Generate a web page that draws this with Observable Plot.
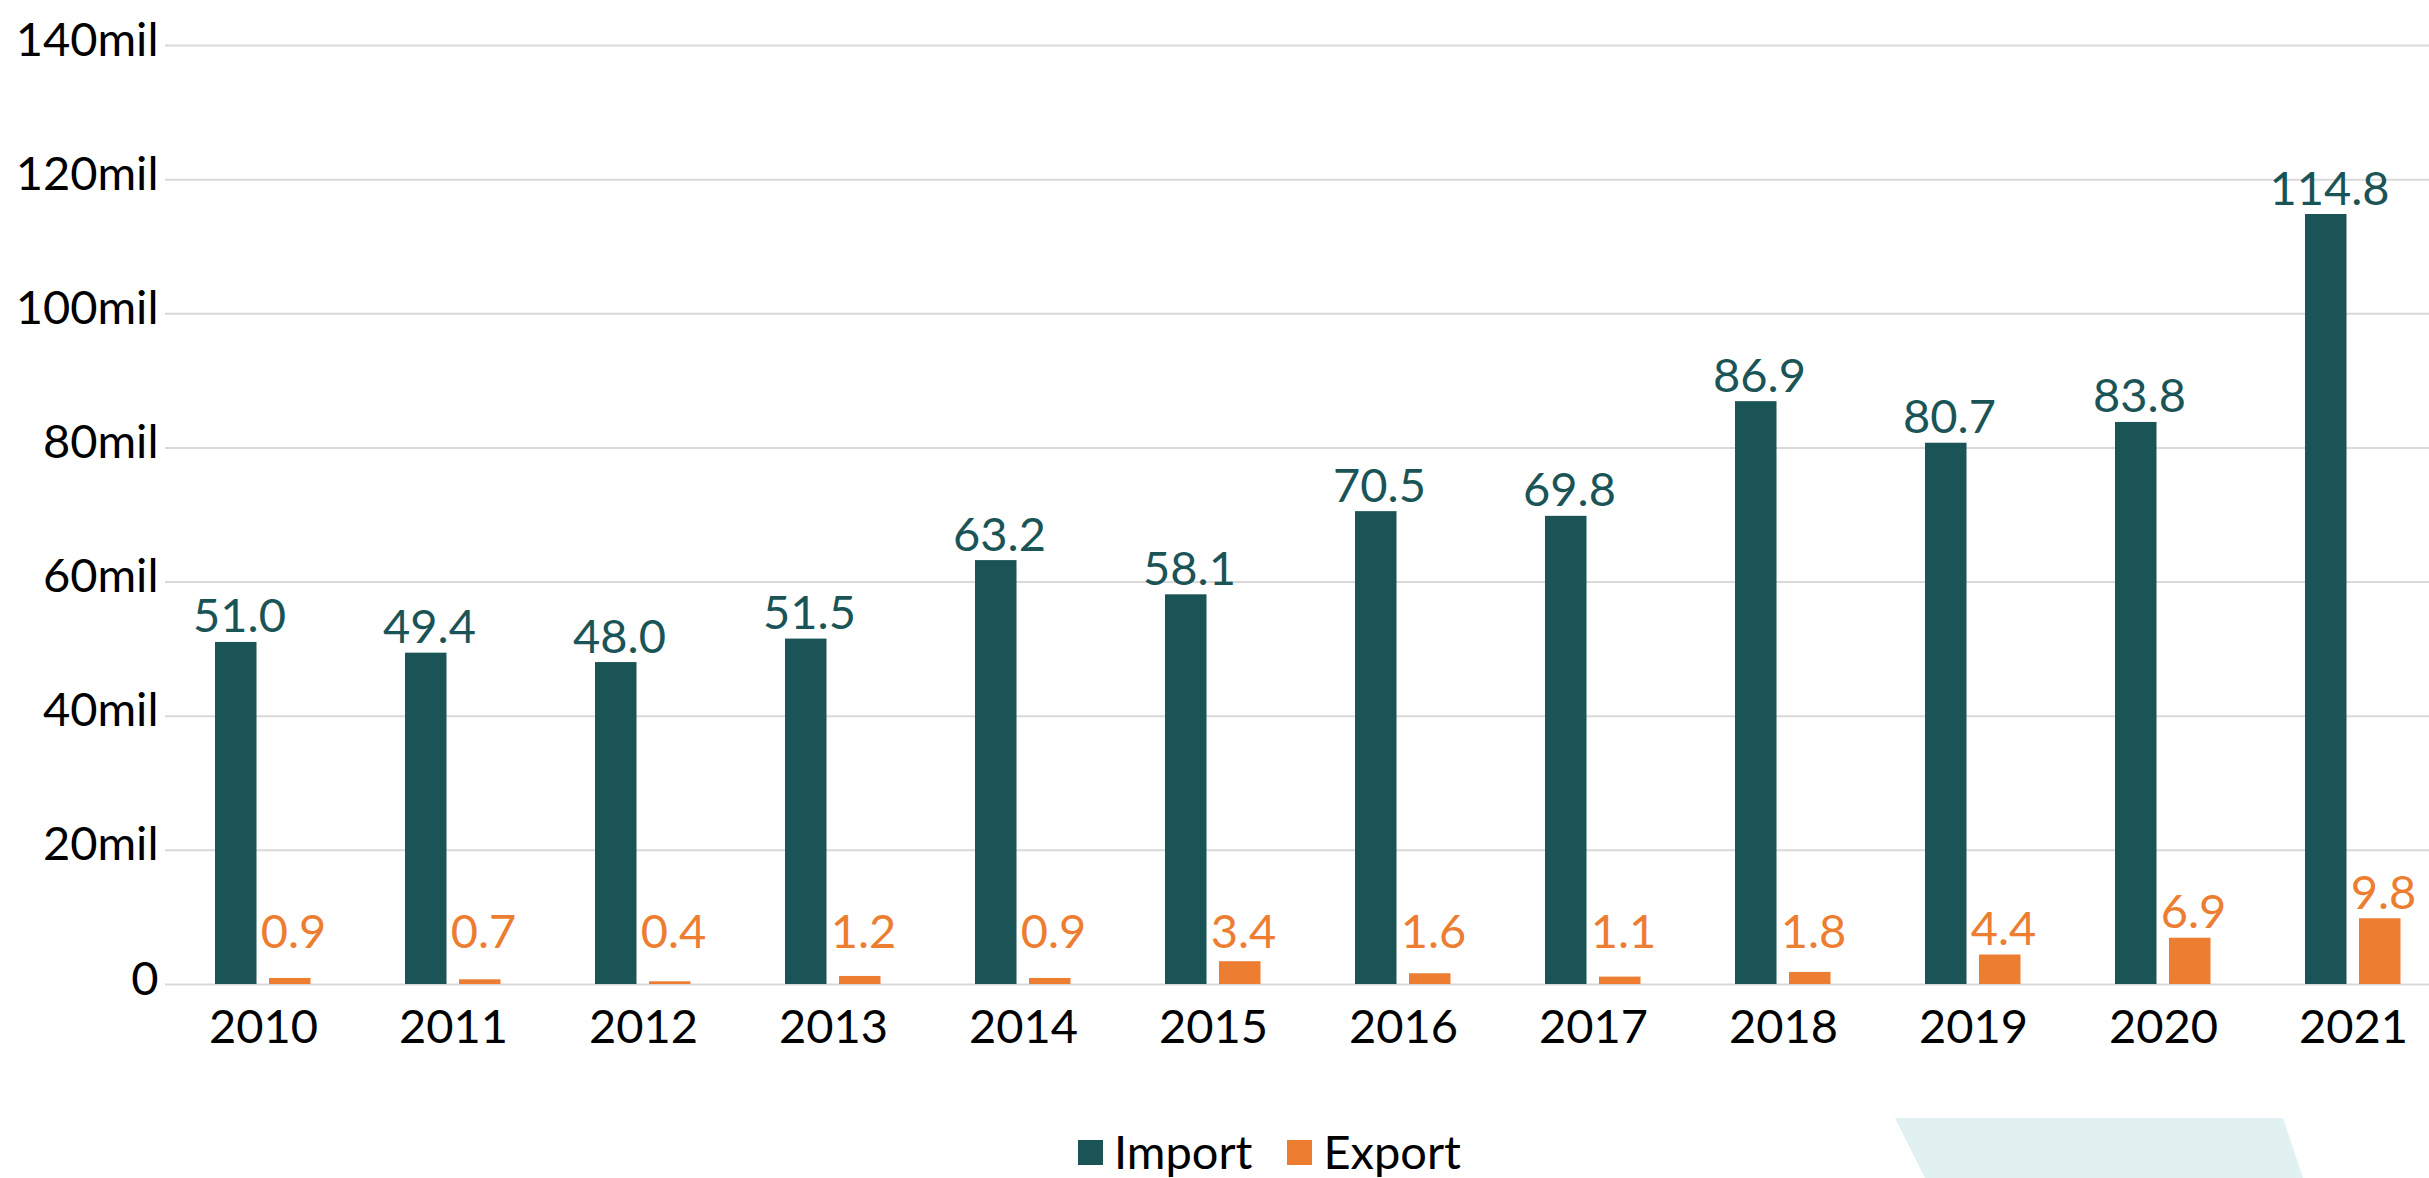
<!DOCTYPE html>
<html>
<head>
<meta charset="utf-8">
<script src="https://cdn.jsdelivr.net/npm/d3@7"></script>
<script src="https://cdn.jsdelivr.net/npm/@observablehq/plot@0.6"></script>
<style>
  html, body { margin: 0; padding: 0; background: #ffffff; }
  #wrap { position: relative; width: 2429px; height: 1178px; overflow: hidden; font-family: Lato, sans-serif; }
  #chart { position: absolute; left: 0; top: 0; }
  #deco { position: absolute; left: 1890px; top: 1118px; width: 420px; height: 60px; background: #e1f0f0;
          clip-path: polygon(5px 0, 393px 0, 413px 60px, 35px 60px); }
  #legend { position: absolute; left: 1078px; top: 1128px; display: flex; align-items: center;
            font-family: Lato, sans-serif; font-size: 47px; line-height: 47px; color: #000; }
  .item { display: flex; align-items: center; margin-right: 35px; }
  .sw { width: 25px; height: 25px; margin-right: 11px; margin-top: 2px; }
</style>
</head>
<body>
<div id="wrap">
  <div id="chart"></div>
  <div id="deco"></div>
  <div id="legend"></div>
</div>
<script>
// ---- data ----
const years = ["2010","2011","2012","2013","2014","2015","2016","2017","2018","2019","2020","2021"];
const importValues = [51.0, 49.4, 48.0, 51.5, 63.2, 58.1, 70.5, 69.8, 86.9, 80.7, 83.8, 114.8];
const exportValues = [0.9, 0.7, 0.4, 1.2, 0.9, 3.4, 1.6, 1.1, 1.8, 4.4, 6.9, 9.8];
const seriesNames = ["Import", "Export"];
const seriesColors = ["#1a5457", "#ed7d31"];
const yTicks = [0, 20, 40, 60, 80, 100, 120, 140];

const importRows = years.map((year, i) => ({year, series: "Import", value: importValues[i]}));
const exportRows = years.map((year, i) => ({year, series: "Export", value: exportValues[i]}));

const FS = 47;
const labelY = d => Math.max(d.value, 4);

const chart = Plot.plot({
  width: 2429,
  height: 1100,
  marginLeft: 165,
  marginRight: 0,
  marginTop: 45,
  marginBottom: 116,
  x: {domain: years, range: [165, 2451], padding: 0},
  y: {domain: [0, 140], range: [984, 45]},
  color: {domain: seriesNames, range: seriesColors},
  style: {fontFamily: "Lato, sans-serif", fontSize: FS + "px", background: "transparent", color: "#000"},
  marks: [
    Plot.ruleY(yTicks, {stroke: "#d9d9d9", strokeWidth: 2}),
    Plot.barY(importRows, {x: "year", y: "value", fill: "series", insetLeft: 47, insetRight: 101.5}),
    Plot.barY(exportRows, {x: "year", y: "value", fill: "series", insetLeft: 101, insetRight: 47.5}),
    Plot.text(importRows, {x: "year", y: labelY, text: d => d.value.toFixed(1), fill: "series",
      dx: -24, dy: -10, lineAnchor: "bottom", fontSize: FS}),
    Plot.text(exportRows, {x: "year", y: labelY, text: d => d.value.toFixed(1), fill: "series",
      dx: 30, dy: -10, lineAnchor: "bottom", fontSize: FS}),
    Plot.axisY({ticks: yTicks, tickFormat: d => d === 0 ? "0" : `${d}mil`, tickSize: 0, tickPadding: 7,
      dy: -5, fontSize: FS, label: null}),
    Plot.axisX({tickSize: 0, tickPadding: 25, fontSize: FS, label: null})
  ]
});
document.getElementById("chart").appendChild(chart);

// ---- legend ----
const legend = document.getElementById("legend");
seriesNames.forEach((name, i) => {
  const item = document.createElement("div");
  item.className = "item";
  const sw = document.createElement("div");
  sw.className = "sw";
  sw.style.background = seriesColors[i];
  const label = document.createElement("span");
  label.textContent = name;
  item.appendChild(sw);
  item.appendChild(label);
  legend.appendChild(item);
});
</script>
</body>
</html>
